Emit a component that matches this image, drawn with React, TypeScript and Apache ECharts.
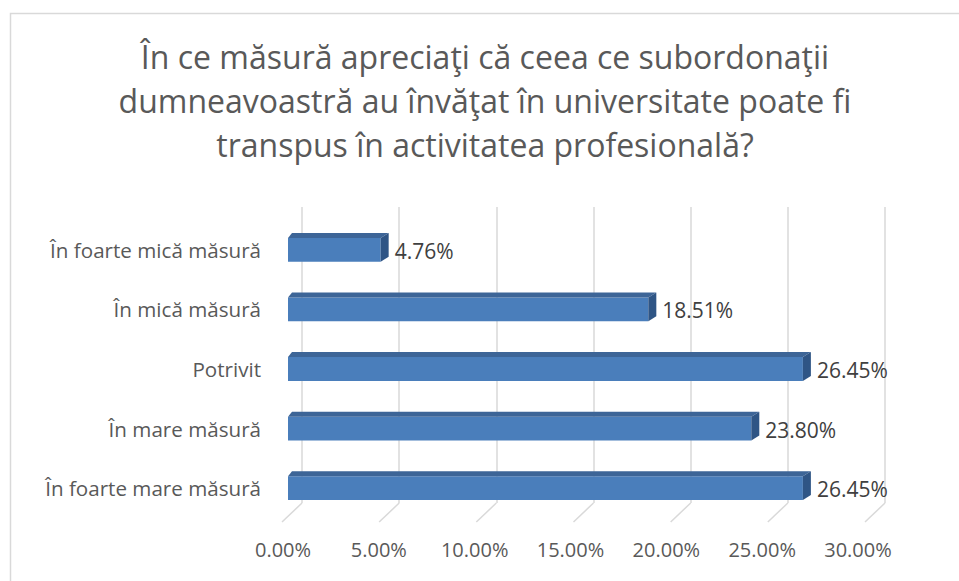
import React, { useEffect, useRef } from "react";
import * as echarts from "echarts";

const TITLE = "În ce măsură apreciaţi că ceea ce subordonaţii\ndumneavoastră au învăţat în universitate poate fi\ntranspus în activitatea profesională?";
const categories = [
  "În foarte mică măsură",
  "În mică măsură",
  "Potrivit",
  "În mare măsură",
  "În foarte mare măsură",
];
const values = [4.76, 18.51, 26.45, 23.8, 26.45];
const tickValues = [0, 5, 10, 15, 20, 25, 30];

const FONT = "'Open Sans', 'Noto Sans', sans-serif";
const FRONT = "#4a7ebb";
const TOP = "#3d6597";
const SIDE = "#2f5585";

export default function App() {
  const ref = useRef<HTMLDivElement>(null);
  useEffect(() => {
    if (!ref.current) return;
    const chart = echarts.init(ref.current, undefined, { renderer: "svg" });
    const option: any = {
      animation: false,
      backgroundColor: "#ffffff",
      grid: [
        { left: 288, right: 87, top: 220, bottom: 63 },
        { left: 302, right: 74, top: 207, bottom: 78 },
        { left: 283, right: 101, top: 220, bottom: 63 },
      ],
      xAxis: [
        { gridIndex: 0, type: "value", min: 0, max: 30, interval: 5, show: false },
        {
          gridIndex: 1, type: "value", min: 0, max: 30, interval: 5,
          axisLine: { show: false }, axisTick: { show: false }, axisLabel: { show: false },
          splitLine: { show: true, lineStyle: { color: "#d9d9d9", width: 1.5 } },
        },
        {
          gridIndex: 2, type: "value", min: 0, max: 30, interval: 5,
          axisLine: { show: false }, axisTick: { show: false },
          splitLine: { show: false },
          axisLabel: {
            margin: 21, color: "#595959", fontSize: 20, fontFamily: FONT,
            formatter: (v: number) => v.toFixed(2) + "%",
          },
        },
      ],
      yAxis: [
        {
          gridIndex: 0, type: "category", data: categories, inverse: true,
          axisLine: { show: false }, axisTick: { show: false },
          axisLabel: { margin: 27, color: "#595959", fontSize: 20.6, fontFamily: FONT },
        },
        { gridIndex: 1, type: "value", min: 0, max: 1, show: false },
        { gridIndex: 2, type: "value", min: 0, max: 1, show: false },
      ],
      series: [
        {
          type: "custom",
          xAxisIndex: 1, yAxisIndex: 1,
          data: tickValues.map((v) => [v, 0]),
          z: 1,
          renderItem: (params: any, api: any) => {
            const p = api.coord([api.value(0), 0]);
            return {
              type: "line",
              shape: { x1: p[0], y1: p[1], x2: p[0] - 20, y2: p[1] + 19 },
              style: { stroke: "#d9d9d9", lineWidth: 1.5 },
            };
          },
        },
        {
          type: "custom",
          xAxisIndex: 0, yAxisIndex: 0,
          data: values.map((v, i) => [v, i]),
          z: 5,
          renderItem: (params: any, api: any) => {
            const v = api.value(0);
            const c = api.value(1);
            const s = api.coord([0, c]);
            const e = api.coord([v, c]);
            const h = api.size([0, 1])[1] * 0.4;
            const x0 = s[0], x1 = e[0];
            const yT = s[1] - h / 2, yB = s[1] + h / 2;
            const dx = 8, dy = 5;
            return {
              type: "group",
              children: [
                { type: "rect", shape: { x: x0, y: yT, width: x1 - x0, height: h }, style: { fill: FRONT } },
                {
                  type: "polygon",
                  shape: { points: [[x0, yT], [x0 + 4, yT - dy], [x1 + dx, yT - dy], [x1, yT]] },
                  style: { fill: TOP },
                },
                {
                  type: "polygon",
                  shape: { points: [[x1, yT], [x1 + dx, yT - dy], [x1 + dx, yB - dy], [x1, yB]] },
                  style: { fill: SIDE },
                },
                {
                  type: "text",
                  x: x1 + dx + 6, y: s[1] + 1,
                  style: {
                    text: v.toFixed(2) + "%", fill: "#404040", fontSize: 21, fontFamily: FONT,
                    align: "left", verticalAlign: "middle",
                  },
                },
              ],
            };
          },
        },
      ],
      graphic: [
        {
          type: "rect", left: 8, top: 11, z: 0,
          shape: { x: 0, y: 0, width: 1000, height: 1000 },
          style: { fill: "none", stroke: "#d9d9d9", lineWidth: 1.5 },
        },
        {
          type: "text", x: 485, y: 100, z: 10,
          style: {
            text: TITLE, fill: "#595959", fontSize: 32, fontFamily: FONT,
            align: "center", verticalAlign: "middle", lineHeight: 44,
          },
        },
      ],
    };
    chart.setOption(option);
    return () => chart.dispose();
  }, []);
  return <div ref={ref} style={{ position: "fixed", left: 0, top: 0, width: 959, height: 581 }} />;
}
